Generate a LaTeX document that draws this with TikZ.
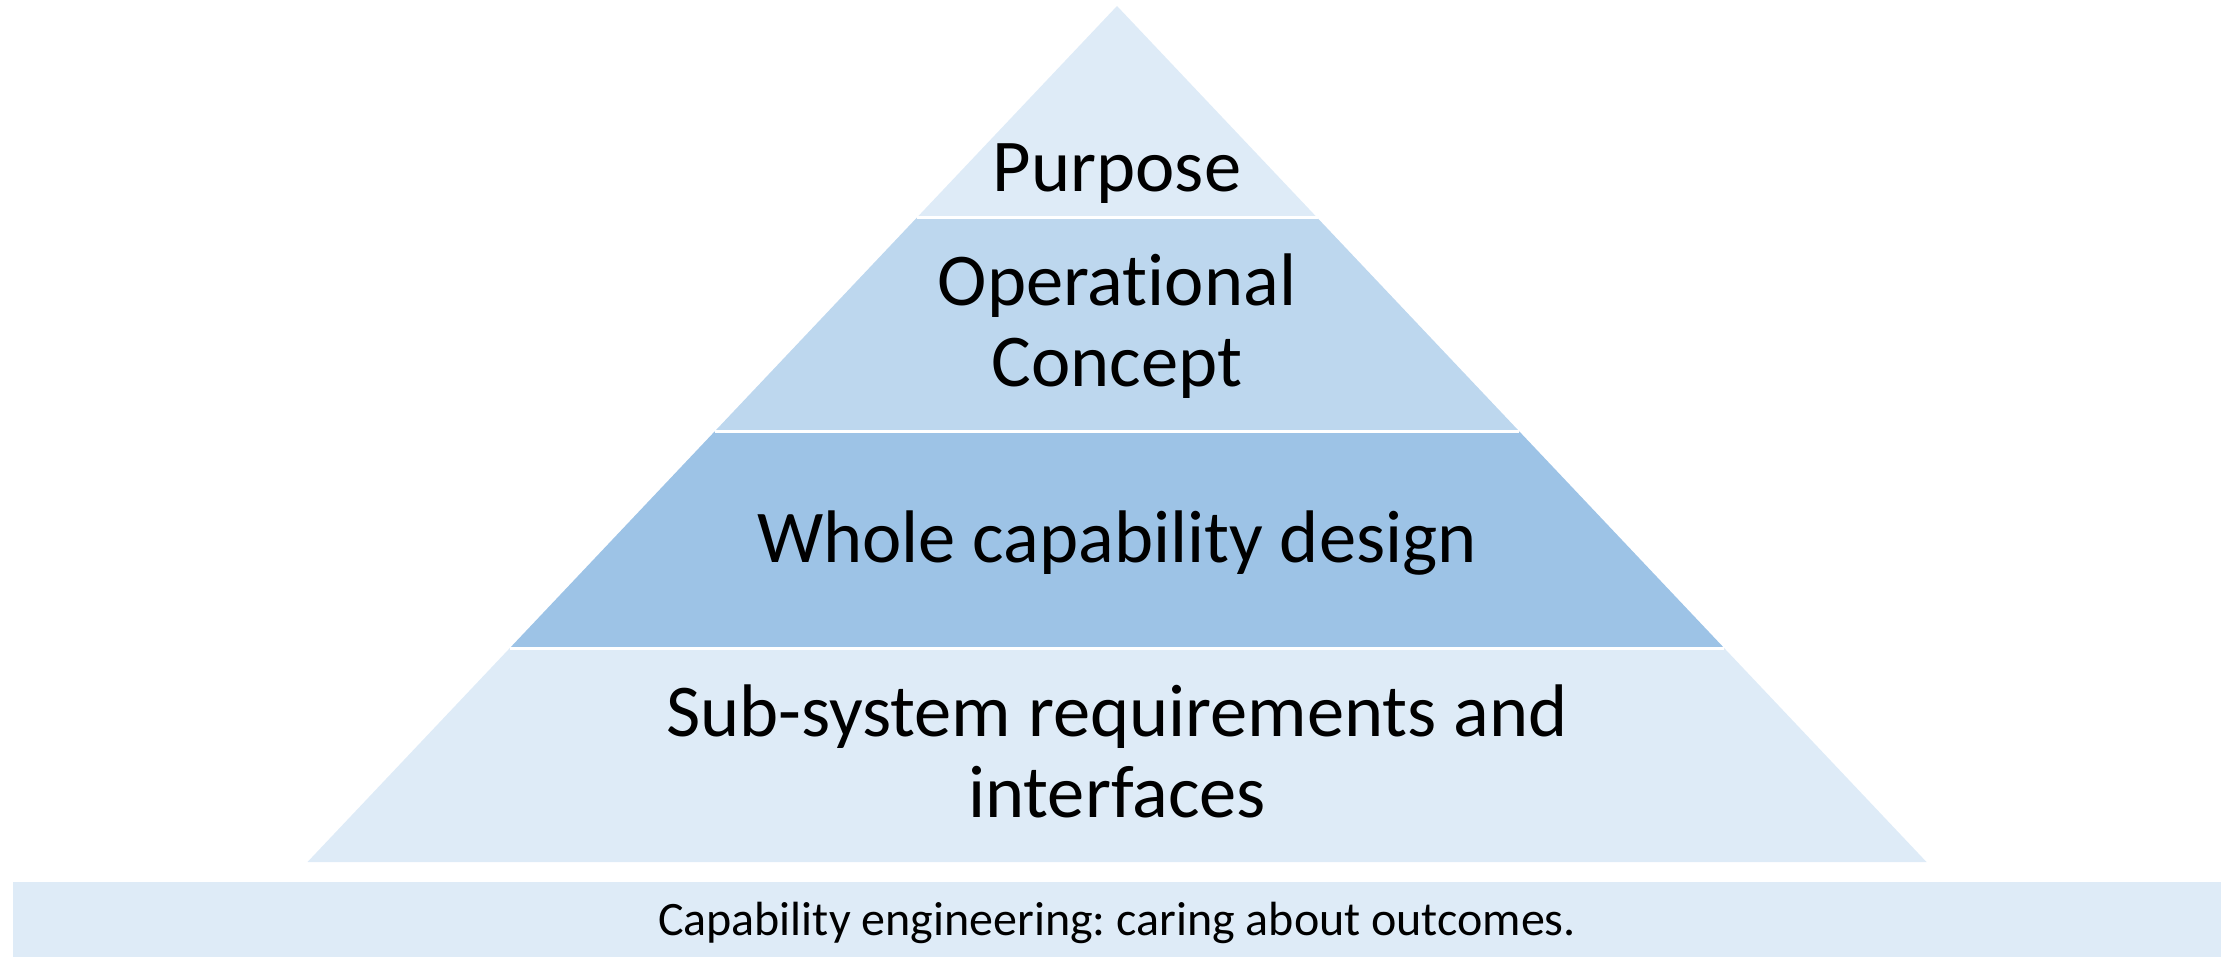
\documentclass[tikz,border=0pt]{standalone}
\usepackage{fontspec}
\setmainfont{Carlito}[Ligatures={TeX,NoCommon}]
\usepackage{tikz}
\usetikzlibrary{positioning}
\frenchspacing

\definecolor{tierpale}{HTML}{DEEBF7}
\definecolor{tierlight}{HTML}{BDD7EE}
\definecolor{tiermid}{HTML}{9DC3E6}

\begin{document}
\begin{tikzpicture}[x=1pt,y=-1pt,
                    tier label/.style={anchor=base,align=center,inner sep=0pt,
                                       font=\fontsize{74.5}{81}\selectfont},
                    note label/.style={anchor=base,inner sep=0pt,
                                       font=\fontsize{48}{56}\selectfont},
                    divider/.style={white,line width=3pt}]
  \useasboundingbox (0,0) rectangle (2233,957);

  % corners of the pyramid, level by level
  \coordinate (apex) at (1117,6);
  \coordinate (l1) at (916.5,218);   \coordinate (r1) at (1317.5,218);
  \coordinate (l2) at (714.6,431.5); \coordinate (r2) at (1519.4,431.5);
  \coordinate (l3) at (509.9,648);   \coordinate (r3) at (1724.1,648);
  \coordinate (l4) at (307.5,862);   \coordinate (r4) at (1926.5,862);

  % the four tiers
  \fill[tierpale]  (apex) -- (r1) -- (l1) -- cycle;
  \fill[tierlight] (l1) -- (r1) -- (r2) -- (l2) -- cycle;
  \fill[tiermid]   (l2) -- (r2) -- (r3) -- (l3) -- cycle;
  \fill[tierpale]  (l3) -- (r3) -- (r4) -- (l4) -- cycle;

  \draw[divider] (l1) -- (r1);
  \draw[divider] (l2) -- (r2);
  \draw[divider] (l3) -- (r3);

  % base strip
  \fill[tierpale] (13,882) rectangle (2221,957);

  % two-line labels sit on the baseline of their last line
  \node[tier label] (purpose) at (1117,192) {Purpose};
  \node[tier label] (opcon) at (1117,387) {Operational\\Concept};
  \node[tier label] (whole) at (1117,562) {Whole capability design};
  \node[tier label] (subsys) at (1117,817) {Sub-system requirements and\\interfaces};
  \node[note label] (caption) at (1117,935) {Capability engineering: caring about outcomes.};
\end{tikzpicture}
\end{document}
